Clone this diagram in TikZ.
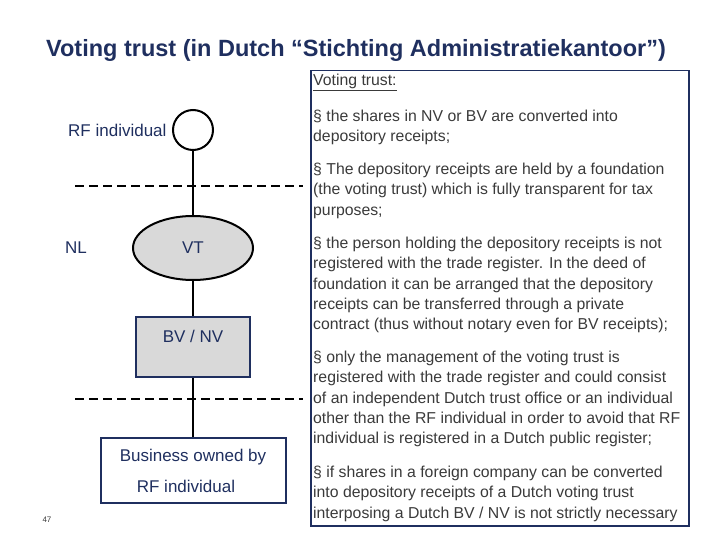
\documentclass[tikz,border=0pt]{standalone}
\usepackage{fontspec}
\setmainfont{Liberation Sans}
\usetikzlibrary{shapes.geometric}
\definecolor{navy}{HTML}{1F2F5F}
\definecolor{txt}{HTML}{3A3A3A}
\begin{document}
\begin{tikzpicture}[x=1pt,y=-1pt,
  lbl/.style={text=navy,font=\fontsize{17}{20}\selectfont},
  para/.style={anchor=north west,align=left,inner sep=0pt,text=txt,font=\fontsize{15.8}{20.3}\selectfont},
  conn/.style={line width=2pt},
  sep/.style={line width=2pt,dash pattern=on 9pt off 5pt}]
\useasboundingbox (0,0) rectangle (720,540);
\node[text=navy,font=\bfseries\fontsize{23.5}{26}\selectfont] (title) at (356,50) {Voting trust (in Dutch “Stichting Administratiekantoor”)};
\node[draw=navy,line width=1.5pt,minimum width=378pt,minimum height=455pt,anchor=north west,inner sep=0pt] (tb) at (310,70) {};
\node[para] (vt0) at (313,74) {\underline{Voting trust:}};
\node[para] (p1) at (313,110) {§ the shares in NV or BV are converted into\\depository receipts;};
\node[para] (p2) at (313,163) {§ The depository receipts are held by a foundation\\(the voting trust) which is fully transparent for tax\\purposes;};
\node[para] (p3) at (313,237) {§ the person holding the depository receipts is not\\registered with the trade register. In the deed of\\foundation it can be arranged that the depository\\receipts can be transferred through a private\\contract (thus without notary even for BV receipts);};
\node[para] (p4) at (313,351) {§ only the management of the voting trust is\\registered with the trade register and could consist\\of an independent Dutch trust office or an individual\\other than the RF individual in order to avoid that RF\\individual is registered in a Dutch public register;};
\node[para] (p5) at (313,466) {§ if shares in a foreign company can be converted\\into depository receipts of a Dutch voting trust\\interposing a Dutch BV / NV is not strictly necessary};
\node[circle,draw,line width=2pt,minimum size=40pt,inner sep=0pt] (rf) at (193,130) {};
\node[lbl,anchor=east] (rfl) at (170,130) {RF individual};
\node[ellipse,draw,line width=2pt,fill=black!15,minimum width=120pt,minimum height=64pt,lbl] (vt) at (193,248) {VT};
\node[lbl] (nl) at (76,248) {NL};
\node[draw=navy,line width=2pt,fill=black!15,minimum width=114pt,minimum height=60pt,lbl] (bv) at (193,347) {};
\node[lbl] (bvl) at (193,336) {BV / NV};
\node[draw=navy,line width=2pt,minimum width=185pt,minimum height=65pt,lbl] (bus) at (193,470) {};
\node[lbl] (bus1) at (193,457) {Business owned by};
\node[lbl] (bus2) at (186,486) {RF individual};
\coordinate (d1a) at (75,186); \coordinate (d1b) at (303,186);
\coordinate (d2a) at (75,399); \coordinate (d2b) at (303,399);
\draw[sep] (d1a) -- (d1b);
\draw[sep] (d2a) -- (d2b);
\draw[conn] (rf) -- (vt);
\draw[conn] (vt) -- (bv);
\draw[conn] (bv) -- (bus);
\node[font=\fontsize{8}{9}\selectfont,text=txt] (pg) at (47,520) {47};
\end{tikzpicture}
\end{document}
